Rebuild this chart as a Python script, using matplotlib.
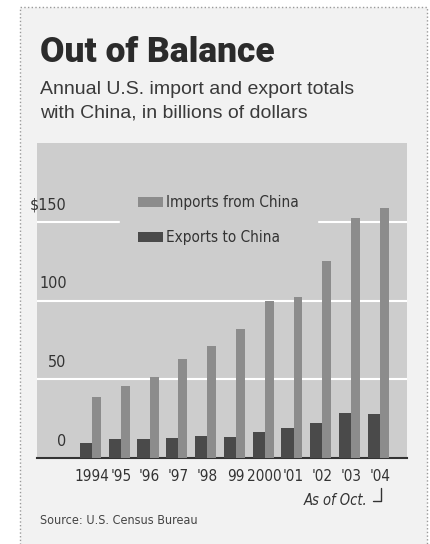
import matplotlib
matplotlib.use("Agg")
import matplotlib.pyplot as plt
import matplotlib.transforms as mtransforms
from matplotlib.patches import Rectangle
import numpy as np

# data (billions of dollars)
years = ["1994", "'95", "'96", "'97", "'98", "99", "2000", "'01", "'02", "'03", "'04"]
imports_china = [38.8, 45.5, 51.5, 62.6, 71.2, 81.8, 100.0, 102.3, 125.2, 152.4, 159.0]
exports_china = [9.3, 11.8, 12.0, 12.9, 14.2, 13.1, 16.2, 19.2, 22.1, 28.4, 28.0]
yticks = [0, 50, 100, 150]
ytick_labels = ["0", "50", "100", "$150"]

narrow = ["Liberation Sans Narrow", "DejaVu Sans"]
panel = "#cdcdcd"

fig = plt.figure(figsize=(4.31, 5.44), dpi=100)
fig.patch.set_facecolor("white")

# dotted border of the graphic
fig.patches.append(Rectangle((20 / 431, -0.05), 407 / 431, 1.05 - 7 / 544,
                             transform=fig.transFigure, facecolor="#f2f2f2",
                             edgecolor="#9a9a9a", linestyle=":", linewidth=1, zorder=-5))

fig.text(40 / 431, 1 - 62 / 544, "Out of Balance", family=["Roboto", "DejaVu Sans"],
         fontweight="heavy", fontsize=25.5, color="#2b2b2b", va="baseline")
fig.text(40 / 431, 1 - 94 / 544, "Annual U.S. import and export totals",
         family=["Liberation Sans", "DejaVu Sans"], fontsize=14, color="#3a3a3a", va="baseline")
fig.text(40 / 431, 1 - 118 / 544, "with China, in billions of dollars",
         family=["Liberation Sans", "DejaVu Sans"], fontsize=14, color="#3a3a3a", va="baseline")
fig.text(40 / 431, 1 - 524 / 544, "Source: U.S. Census Bureau",
         family=narrow, stretch="condensed", fontsize=9, color="#444444", va="baseline")

ax = fig.add_axes([37 / 431, 1 - 458 / 544, 370 / 431, 315 / 544])
ax.set_facecolor(panel)

x = np.arange(len(years))
ax.bar(x - 0.21, exports_china, width=0.42, color="#4a4a4a", label="Exports to China", zorder=3)
ax.bar(x + 0.155, imports_china, width=0.31, color="#8c8c8c", label="Imports from China", zorder=3)

ax.set_xlim(-1.91, 10.94)
ax.set_ylim(0, 200)
ax.set_yticks(yticks)
ax.yaxis.grid(True, color="white", linewidth=1.5, zorder=0)
ax.set_axisbelow(True)
ax.tick_params(axis="y", length=0, labelleft=False)
ax.tick_params(axis="x", length=0, pad=8)
ax.set_xticks(x)
ax.set_xticklabels(years, family=narrow, stretch="condensed", fontsize=11, color="#333333")

for v, lab in zip(yticks, ytick_labels):
    ax.text(0.08, v + 6, lab, transform=mtransforms.blended_transform_factory(ax.transAxes, ax.transData),
            ha="right", va="bottom", family=narrow, stretch="condensed", fontsize=11.5, color="#333333")

for s in ["top", "right", "left"]:
    ax.spines[s].set_visible(False)
ax.spines["bottom"].set_color("#333333")
ax.spines["bottom"].set_linewidth(1.5)

handles, labels = ax.get_legend_handles_labels()
leg = ax.legend(handles[::-1], labels[::-1], loc="upper left", bbox_to_anchor=(0.224, 0.892),
                borderaxespad=0, borderpad=1.2, frameon=True, facecolor=panel, edgecolor=panel,
                framealpha=1, fancybox=False, handlelength=1.6, handleheight=0.6,
                handletextpad=0.2, labelspacing=1.3,
                prop={"family": narrow, "stretch": "condensed", "size": 11})
for t in leg.get_texts():
    t.set_color("#333333")

# "As of Oct." note pointing at the last label
trans = mtransforms.blended_transform_factory(ax.transData, ax.transAxes)
ax.annotate("As of Oct.", xy=(x[-1] + 0.05, -0.095), xycoords=trans,
            xytext=(x[-1] - 0.45, -0.135), textcoords=trans, ha="right", va="center",
            family=narrow, stretch="condensed", style="italic", fontsize=10.5, color="#333333",
            arrowprops=dict(arrowstyle="-", color="#333333", lw=1,
                            connectionstyle="angle,angleA=0,angleB=90,rad=0",
                            shrinkA=2, shrinkB=0))

plt.savefig("out.png", dpi=100)
